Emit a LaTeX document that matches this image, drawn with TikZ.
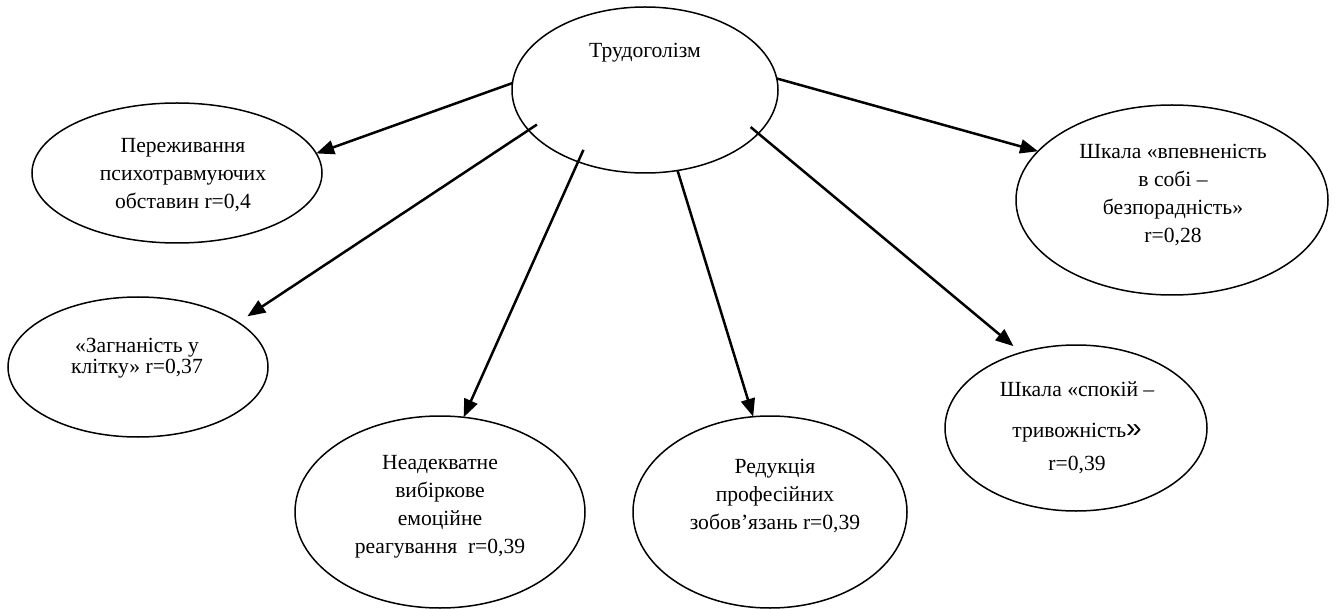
\documentclass[tikz,border=0pt]{standalone}
\usepackage{fontspec}
\setmainfont{Liberation Serif}
\newfontfamily\guillfont{Liberation Sans}
\usetikzlibrary{shapes.geometric,arrows.meta}
\begin{document}
\begin{tikzpicture}[x=1pt,y=-1pt,
  oval/.style={ellipse,draw,line width=1.5pt,inner sep=0pt,outer sep=0pt},
  txt/.style={align=center,inner sep=0pt,font=\fontsize{21.6}{28}\selectfont},
  conn/.style={line width=2.5pt,-{Triangle[length=18pt,width=14pt]}}]
\useasboundingbox (0,0) rectangle (1335,609);

% ovals
\node[oval,minimum width=266pt,minimum height=166pt] (T) at (645,90) {};
\node[oval,minimum width=290pt,minimum height=140pt] (P) at (177,173) {};
\node[oval,minimum width=260pt,minimum height=140pt] (Z) at (138,367) {};
\node[oval,minimum width=290pt,minimum height=192pt] (N) at (440,512) {};
\node[oval,minimum width=274pt,minimum height=192pt] (R) at (770,512) {};
\node[oval,minimum width=262pt,minimum height=166pt] (S) at (1076,428) {};
\node[oval,minimum width=312pt,minimum height=190pt] (V) at (1172,200) {};

% texts
\node[txt] (tT) at (645,53) {Трудоголізм};
\node[txt] (tP) at (183,175) {Переживання\\психотравмуючих\\обставин r=0,4};
\node[txt,font=\fontsize{21.6}{21.5}\selectfont] (tZ) at (137,358) {«Загнаність у\\клітку» r=0,37};
\node[txt] (tN) at (440,507) {Неадекватне\\вибіркове\\емоційне\\реагування~ r=0,39};
\node[txt] (tR) at (775,496) {Редукція\\професійних\\зобов’язань r=0,39};
\node[txt] (tS) at (1077,428) {Шкала «спокій –\\[13pt]тривожність{\guillfont\fontsize{28}{28}\selectfont»}\\[5pt]r=0,39};
\node[txt] (tV) at (1173,195) {Шкала «впевненість\\в собі –\\безпорадність»\\r=0,28};

% arrows
\draw[conn] (T.177) -- (P.8);
\draw[conn,shorten <=-10pt,shorten >=11pt] (T.199) -- (Z.24);
\draw[conn,shorten <=-13pt] (T.227) -- (N.76);
\draw[conn] (T.292) -- (R.100);
\draw[conn,shorten <=-10pt,shorten >=10pt] (T.339.5) -- (S.126);
\draw[conn] (T.5) -- (V.160);
\end{tikzpicture}
\end{document}
